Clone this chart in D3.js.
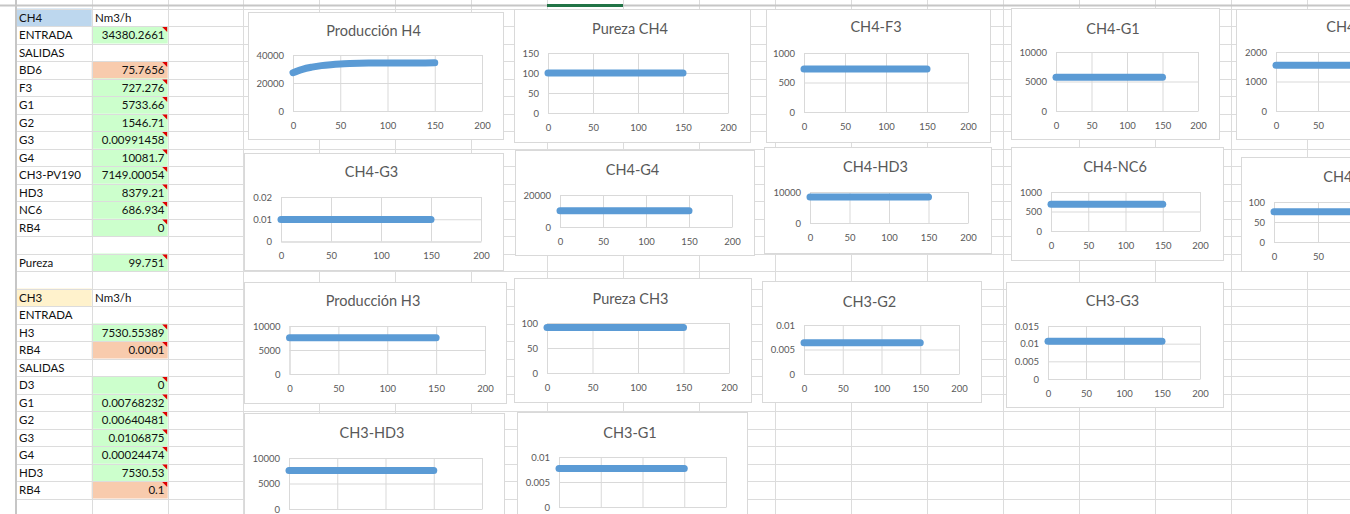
<!DOCTYPE html>
<html><head><meta charset="utf-8">
<script src="https://cdn.jsdelivr.net/npm/d3@7"></script>
<style>
html,body{margin:0;padding:0;background:#fff;overflow:hidden;}
svg{display:block;font-family:Lato,"Noto Sans",sans-serif;}
</style></head>
<body>
<svg id="c" width="1350" height="514"></svg>
<script>
// ---------- DATA ----------
// Left table (sheet cells)
const rowLabels = ["CH4","ENTRADA","SALIDAS","BD6","F3","G1","G2","G3","G4","CH3-PV190","HD3","NC6","RB4","","Pureza","",
                   "CH3","ENTRADA","H3","RB4","SALIDAS","D3","G1","G2","G3","G4","HD3","RB4"];
const rowValues = ["Nm3/h","34380.2661","","75.7656","727.276","5733.66","1546.71","0.00991458","10081.7","7149.00054","8379.21","686.934","0","","99.751","",
                   "Nm3/h","","7530.55389","0.0001","","0","0.00768232","0.00640481","0.0106875","0.00024474","7530.53","0.1"];
const cellKinds = ["h4","g","","o","g","g","g","g","g","g","g","g","g","","g","",
                   "h3","","g","o","","g","g","g","g","g","g","o"];

// Chart series: iteration number (x) and values
const iterations = [0,10,20,30,40,50,60,70,80,90,100,110,120,130,140,150];
const produccionH4 = [27400,29800,31300,32400,33100,33600,33900,34100,34200,34250,34300,34330,34350,34360,34370,34380];
const purezaCH4 = [99.75,99.75,99.75,99.75,99.75,99.75,99.75,99.75,99.75,99.75,99.75,99.75,99.75,99.75,99.75,99.75];
const ch4F3 = [727.3,727.3,727.3,727.3,727.3,727.3,727.3,727.3,727.3,727.3,727.3,727.3,727.3,727.3,727.3,727.3];
const ch4G1 = [5733.7,5733.7,5733.7,5733.7,5733.7,5733.7,5733.7,5733.7,5733.7,5733.7,5733.7,5733.7,5733.7,5733.7,5733.7,5733.7];
const ch4G2 = [1546.7,1546.7,1546.7,1546.7,1546.7,1546.7,1546.7,1546.7,1546.7,1546.7,1546.7,1546.7,1546.7,1546.7,1546.7,1546.7];
const ch4G3 = [0.00991,0.00991,0.00991,0.00991,0.00991,0.00991,0.00991,0.00991,0.00991,0.00991,0.00991,0.00991,0.00991,0.00991,0.00991,0.00991];
const ch4G4 = [10081.7,10081.7,10081.7,10081.7,10081.7,10081.7,10081.7,10081.7,10081.7,10081.7,10081.7,10081.7,10081.7,10081.7,10081.7,10081.7];
const ch4HD3 = [8379.2,8379.2,8379.2,8379.2,8379.2,8379.2,8379.2,8379.2,8379.2,8379.2,8379.2,8379.2,8379.2,8379.2,8379.2,8379.2];
const ch4NC6 = [686.9,686.9,686.9,686.9,686.9,686.9,686.9,686.9,686.9,686.9,686.9,686.9,686.9,686.9,686.9,686.9];
const ch4BD6 = [75.77,75.77,75.77,75.77,75.77,75.77,75.77,75.77,75.77,75.77,75.77,75.77,75.77,75.77,75.77,75.77];
const produccionH3 = [7530.6,7530.6,7530.6,7530.6,7530.6,7530.6,7530.6,7530.6,7530.6,7530.6,7530.6,7530.6,7530.6,7530.6,7530.6,7530.6];
const purezaCH3 = [91,91,91,91,91,91,91,91,91,91,91,91,91,91,91,91];
const ch3G2 = [0.0064,0.0064,0.0064,0.0064,0.0064,0.0064,0.0064,0.0064,0.0064,0.0064,0.0064,0.0064,0.0064,0.0064,0.0064,0.0064];
const ch3G3 = [0.01069,0.01069,0.01069,0.01069,0.01069,0.01069,0.01069,0.01069,0.01069,0.01069,0.01069,0.01069,0.01069,0.01069,0.01069,0.01069];
const ch3HD3 = [7530.5,7530.5,7530.5,7530.5,7530.5,7530.5,7530.5,7530.5,7530.5,7530.5,7530.5,7530.5,7530.5,7530.5,7530.5,7530.5];
const ch3G1 = [0.00768,0.00768,0.00768,0.00768,0.00768,0.00768,0.00768,0.00768,0.00768,0.00768,0.00768,0.00768,0.00768,0.00768,0.00768,0.00768];

const xTicks = [0,50,100,150,200];
const chartTitles = ["Producción H4","Pureza CH4","CH4-F3","CH4-G1","CH4-G2",
                     "CH4-G3","CH4-G4","CH4-HD3","CH4-NC6","CH4-BD6",
                     "Producción H3","Pureza CH3","CH3-G2","CH3-G3",
                     "CH3-HD3","CH3-G1"];
const chartSeries = [produccionH4,purezaCH4,ch4F3,ch4G1,ch4G2,
                     ch4G3,ch4G4,ch4HD3,ch4NC6,ch4BD6,
                     produccionH3,purezaCH3,ch3G2,ch3G3,
                     ch3HD3,ch3G1];
const chartYTicks = [[0,20000,40000],[0,50,100,150],[0,500,1000],[0,5000,10000],[0,1000,2000],
                     [0,0.01,0.02],[0,20000],[0,10000],[0,500,1000],[0,50,100],
                     [0,5000,10000],[0,50,100],[0,0.005,0.01],[0,0.005,0.01,0.015],
                     [0,5000,10000],[0,0.005,0.01]];

// ---------- LAYOUT (positions on the sheet) ----------
// box: [x0,y0,x1,y1]  plot: [x0,y0,x1,y1]  ty: title centre y
const layout = [
  {box:[248,12,503,139], plot:[293,55,482,111], ty:31},
  {box:[514,9,750,142], plot:[548,53,728,113], ty:29},
  {box:[766,9,990,142], plot:[804,53,968,112], ty:27},
  {box:[1011,8,1219,139], plot:[1056,52,1198,111], ty:29},
  {box:[1236,9,1474,139], plot:[1276,52,1444,111], ty:27},
  {box:[244,153,503,270], plot:[281,197,481,241.5], ty:172},
  {box:[515,150,754,255], plot:[560,195,732,227], ty:170},
  {box:[764,147,991,253], plot:[810,192,968,223], ty:167},
  {box:[1011,147,1223,260], plot:[1051,192,1200,231], ty:167},
  {box:[1241,157,1473,271], plot:[1274,202,1450,242], ty:177},
  {box:[244,282,506,403], plot:[289.5,326,485,374], ty:301},
  {box:[514,278,751,402], plot:[547,323,729,373], ty:299},
  {box:[762,281,981,402], plot:[804,325,959,374], ty:302},
  {box:[1006,282,1223,407], plot:[1048,326,1200,379], ty:301},
  {box:[244,413,504,545], plot:[289,458,482,509], ty:433},
  {box:[517,412,747,545], plot:[559,457,726,507], ty:433}
];

const svg = d3.select("#c");
const W = 1350, H = 514;
const gridColor = "#dcdcdc";
const rowTop = 8.5, rowH = 17.5, colX0 = 16, colW = 76;

// ---------- sheet grid ----------
const sheet = svg.append("g");
sheet.append("rect").attr("width",W).attr("height",H).attr("fill","#fff");
const colA = [16, 91.7], colB = [91.7, 167.7];
const fillMap = {g:"#ccffcc", o:"#f8cbad", h4:"#bdd7ee", h3:"#fff2cc"};
rowLabels.forEach((lab,i)=>{
  const y0 = rowTop + i*rowH;
  const k = cellKinds[i];
  if (k === "h4" || k === "h3") {
    sheet.append("rect").attr("x",colA[0]).attr("y",y0).attr("width",colA[1]-colA[0]).attr("height",rowH).attr("fill",fillMap[k]);
  } else if (k) {
    sheet.append("rect").attr("x",colB[0]).attr("y",y0).attr("width",colB[1]-colB[0]).attr("height",rowH).attr("fill",fillMap[k]);
  }
});
d3.range(0, 30).forEach(i=>{
  const y = Math.round(rowTop + i*rowH) + 0.5;
  sheet.append("line").attr("x1",colX0).attr("x2",W).attr("y1",y).attr("y2",y).attr("stroke",gridColor).attr("stroke-width",1);
});
const colLines = [16, 91.7, 167.7, 243.3].concat(d3.range(1,15).map(k=>243.3 + k*colW));
colLines.forEach(x=>{
  const xx = Math.round(x)+0.5;
  sheet.append("line").attr("x1",xx).attr("x2",xx).attr("y1",0).attr("y2",H).attr("stroke",gridColor).attr("stroke-width",1);
});
sheet.append("line").attr("x1",16).attr("x2",16).attr("y1",0).attr("y2",H).attr("stroke","#c6c6c6").attr("stroke-width",2);
sheet.append("line").attr("x1",0).attr("x2",W).attr("y1",5.5).attr("y2",5.5).attr("stroke","#c6c6c6").attr("stroke-width",2);
sheet.append("rect").attr("x",547).attr("y",4).attr("width",76).attr("height",3).attr("fill","#217346");

rowLabels.forEach((lab,i)=>{
  const y0 = rowTop + i*rowH;
  if (lab) sheet.append("text").attr("x",19).attr("y",y0+13).attr("font-size","11.5px").attr("fill","#111").text(lab);
  const v = rowValues[i];
  if (v) {
    const isUnit = v === "Nm3/h";
    sheet.append("text").attr("x", isUnit ? 95 : 164.5).attr("y",y0+13)
      .attr("text-anchor", isUnit ? "start" : "end").attr("font-size","11.5px").attr("fill","#111").text(v);
    if (!isUnit) {
      const x1 = colB[1] - 0.5;
      sheet.append("path").attr("d",`M${x1-5},${y0+1}L${x1},${y0+1}L${x1},${y0+6}Z`).attr("fill","#e00000");
    }
  }
});

// ---------- charts ----------
const textGray = "#595959";
const axisGray = "#d9d9d9";
const blue = "#5b9bd5";

layout.forEach((L,ci)=>{
  const g = svg.append("g");
  const [bx0,by0,bx1,by1] = L.box;
  const [px0,py0,px1,py1] = L.plot;
  g.append("rect").attr("x",bx0+0.5).attr("y",by0+0.5).attr("width",bx1-bx0).attr("height",by1-by0)
    .attr("fill","#fff").attr("stroke","#d9d9d9").attr("stroke-width",1);
  g.append("text").attr("x",(bx0+bx1)/2 - 2).attr("y",L.ty).attr("dy","0.35em")
    .attr("text-anchor","middle").attr("font-size","14.5px").attr("fill",textGray).text(chartTitles[ci]);

  const yt = chartYTicks[ci];
  const x = d3.scaleLinear().domain([0,200]).range([px0,px1]);
  const y = d3.scaleLinear().domain([0, d3.max(yt)]).range([py1,py0]);

  const ya = g.append("g").attr("transform",`translate(${px0},0)`)
    .call(d3.axisLeft(y).tickValues(yt).tickSizeInner(-(px1-px0)).tickSizeOuter(0).tickPadding(9).tickFormat(d=>String(+d.toFixed(6))));
  ya.select(".domain").attr("stroke",axisGray);
  ya.selectAll(".tick line").attr("stroke",axisGray);
  ya.selectAll("text").attr("fill",textGray).attr("font-size","9.5px").attr("font-family","Lato,'Noto Sans',sans-serif");

  // gridlines for all x ticks; labels only where they fall inside the visible window
  const labelsVisible = py1 + 20 < H;
  const xa = g.append("g").attr("transform",`translate(0,${py1})`)
    .call(d3.axisBottom(x).tickValues(xTicks).tickSizeInner(-(py1-py0)).tickSizeOuter(0).tickPadding(11)
      .tickFormat(t => (labelsVisible && x(t) + 10 < W) ? String(t) : ""));
  xa.select(".domain").attr("stroke",axisGray);
  xa.selectAll(".tick line").attr("stroke",axisGray);
  xa.selectAll("text").filter(function(){ return this.textContent === ""; }).remove();
  xa.selectAll("text").attr("fill",textGray).attr("font-size","9.5px").attr("font-family","Lato,'Noto Sans',sans-serif");

  const pts = iterations.map((it,k)=>[it, chartSeries[ci][k]]);
  g.append("path").datum(pts)
    .attr("d", d3.line().x(d=>x(d[0])).y(d=>y(d[1])).curve(d3.curveMonotoneX))
    .attr("fill","none").attr("stroke",blue).attr("stroke-width",7)
    .attr("stroke-linecap","round").attr("stroke-linejoin","round");
});
</script>
</body></html>
